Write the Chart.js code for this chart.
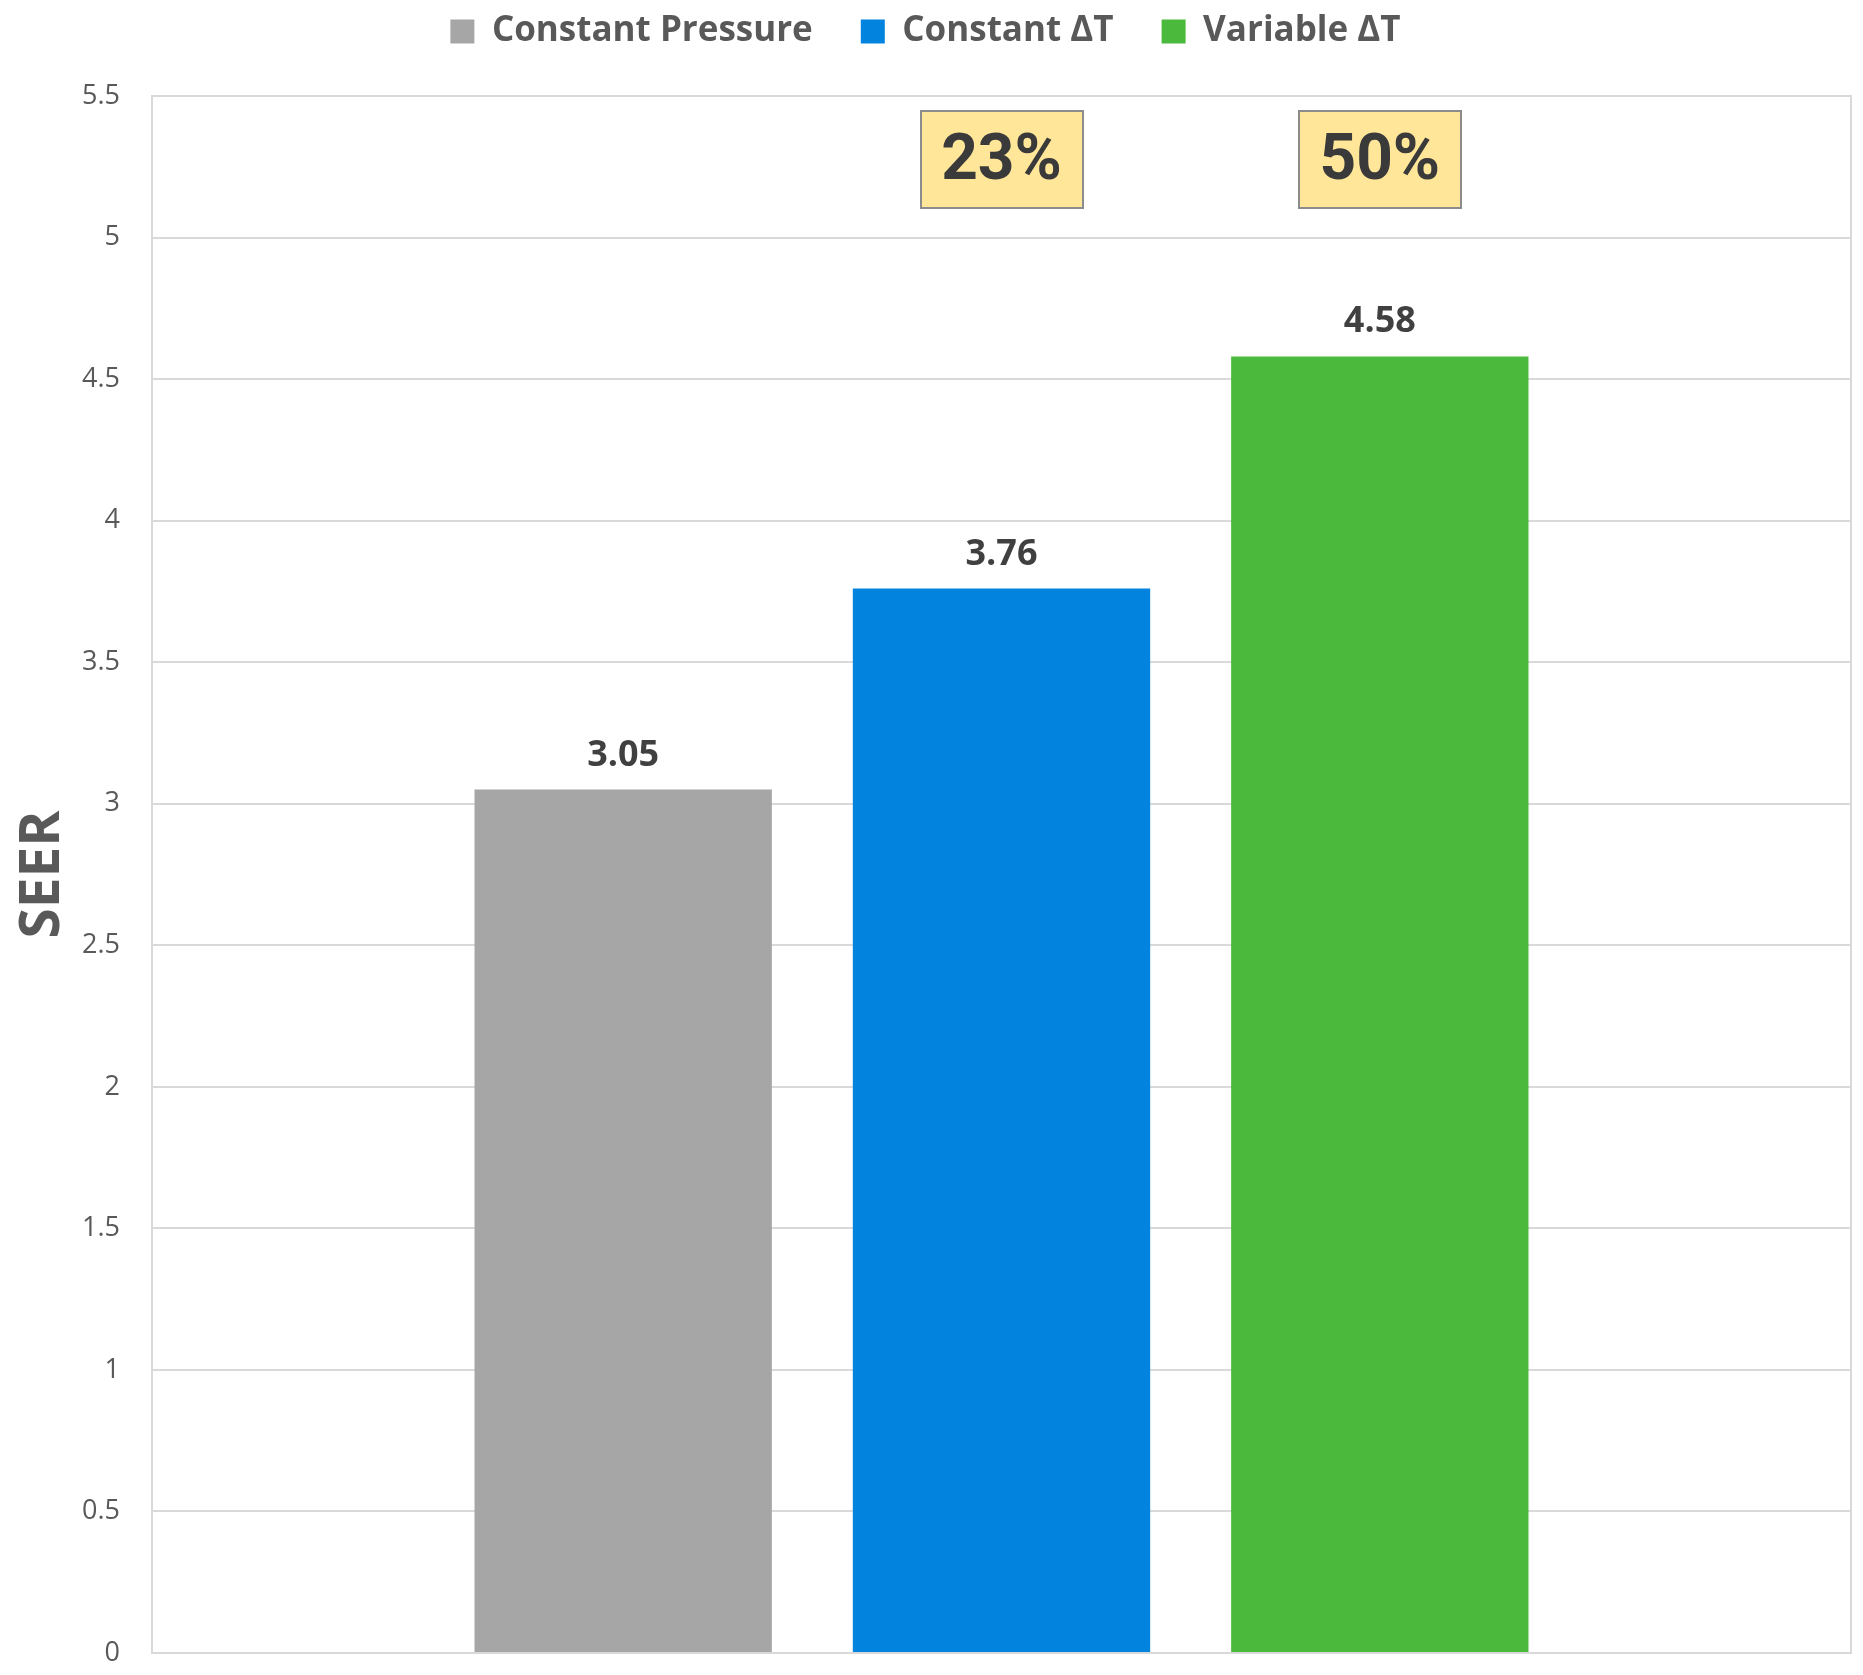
<!DOCTYPE html>
<html lang="en">
<head>
<meta charset="UTF-8">
<title>SEER by control strategy</title>
<script src="https://cdn.jsdelivr.net/npm/chart.js@4.4.0/dist/chart.umd.min.js"></script>
<style>
  html, body { margin: 0; padding: 0; background: #fff; }
</style>
</head>
<body>
<canvas id="seerChart" width="1863" height="1675"></canvas>
<script>
// one group of bars, one bar per control strategy
const categories = [''];
const seriesNames = ['Constant Pressure', 'Constant ΔT', 'Variable ΔT'];
const seerValues = [3.05, 3.76, 4.58];
const seriesColors = ['#A6A6A6', '#0283DE', '#4BB93B'];

// y axis range
const yMin = 0;
const yMax = 5.5;
const yStep = 0.5;

// improvement boxes sit at this SEER level, above every bar but the baseline
const gainBoxLevel = 5.275;

const gridColor = '#D9D9D9';
const textColor = '#595959';

// value printed above each bar
const valueLabels = {
  id: 'valueLabels',
  afterDatasetsDraw(chart) {
    const ctx = chart.ctx;
    ctx.save();
    ctx.font = 'bold 36px "Open Sans"';
    ctx.fillStyle = '#404040';
    ctx.textAlign = 'center';
    ctx.textBaseline = 'alphabetic';
    chart.data.datasets.forEach((ds, i) => {
      const bar = chart.getDatasetMeta(i).data[0];
      ctx.fillText(ds.data[0].toFixed(2), bar.x, bar.y - 24);
    });
    ctx.restore();
  }
};

// yellow boxes with the gain over the first series
const gainBoxes = {
  id: 'gainBoxes',
  afterDatasetsDraw(chart) {
    const ctx = chart.ctx;
    const yPix = chart.scales.y.getPixelForValue(gainBoxLevel);
    const base = seerValues[0];
    const w = 162, h = 97;
    ctx.save();
    for (let i = 1; i < seerValues.length; i++) {
      const bar = chart.getDatasetMeta(i).data[0];
      const gain = Math.round((seerValues[i] / base - 1) * 100) + '%';
      const x0 = Math.round(bar.x - w / 2), y0 = Math.round(yPix - h / 2);
      ctx.fillStyle = '#FFE699';
      ctx.fillRect(x0, y0, w, h);
      ctx.strokeStyle = '#8C8C8C';
      ctx.lineWidth = 2;
      ctx.strokeRect(x0, y0, w, h);
      ctx.font = 'bold 64px Roboto';
      ctx.fillStyle = '#3A3A3A';
      ctx.textAlign = 'center';
      ctx.textBaseline = 'middle';
      ctx.fillText(gain, bar.x, yPix + 3);
    }
    ctx.restore();
  }
};

// light frame round the plot area
const plotFrame = {
  id: 'plotFrame',
  beforeDatasetsDraw(chart) {
    const a = chart.chartArea;
    const ctx = chart.ctx;
    ctx.save();
    ctx.strokeStyle = gridColor;
    ctx.lineWidth = 2;
    ctx.strokeRect(a.left, a.top, a.right - a.left, a.bottom - a.top);
    ctx.restore();
  }
};

// legend band is a fixed height; its items are pulled up near the top edge
const legendBand = {
  id: 'legendBand',
  beforeInit(chart) {
    const fit = chart.legend.fit;
    chart.legend.fit = function () {
      fit.bind(chart.legend)();
      this.height = 96;
    };
  },
  afterLayout(chart) {
    chart.legend.top = -34;
  }
};

const datasets = seriesNames.map((name, i) => ({
  label: name,
  data: [seerValues[i]],
  backgroundColor: seriesColors[i],
  borderWidth: 0,
  categoryPercentage: 0.668,
  barPercentage: 0.786
}));

new Chart(document.getElementById('seerChart'), {
  type: 'bar',
  data: { labels: categories, datasets: datasets },
  options: {
    responsive: false,
    animation: false,
    devicePixelRatio: 1,
    layout: { padding: { left: 0, right: 12, top: 0, bottom: 0 } },
    plugins: {
      legend: {
        position: 'top',
        labels: {
          boxWidth: 24,
          boxHeight: 24,
          padding: 48,
          color: textColor,
          font: { family: 'Open Sans', size: 35, weight: 'bold' }
        }
      },
      tooltip: { enabled: false }
    },
    scales: {
      x: {
        grid: { display: false },
        border: { display: false },
        ticks: { display: false },
        afterFit(scale) { scale.height = 22; }
      },
      y: {
        min: yMin,
        max: yMax,
        ticks: {
          stepSize: yStep,
          padding: 4,
          color: textColor,
          font: { family: 'Open Sans', size: 27 },
          callback: (v) => String(v)
        },
        grid: {
          color: gridColor,
          lineWidth: 2,
          drawTicks: true,
          tickLength: 28,
          tickColor: 'rgba(0,0,0,0)'
        },
        border: { display: false },
        title: {
          display: true,
          text: 'SEER',
          color: textColor,
          padding: { top: 10, bottom: 0 },
          font: { family: 'Open Sans', size: 55, weight: 'bold' }
        },
        afterFit(scale) { scale.width = 152; }
      }
    }
  },
  plugins: [legendBand, plotFrame, valueLabels, gainBoxes]
});
</script>
</body>
</html>
